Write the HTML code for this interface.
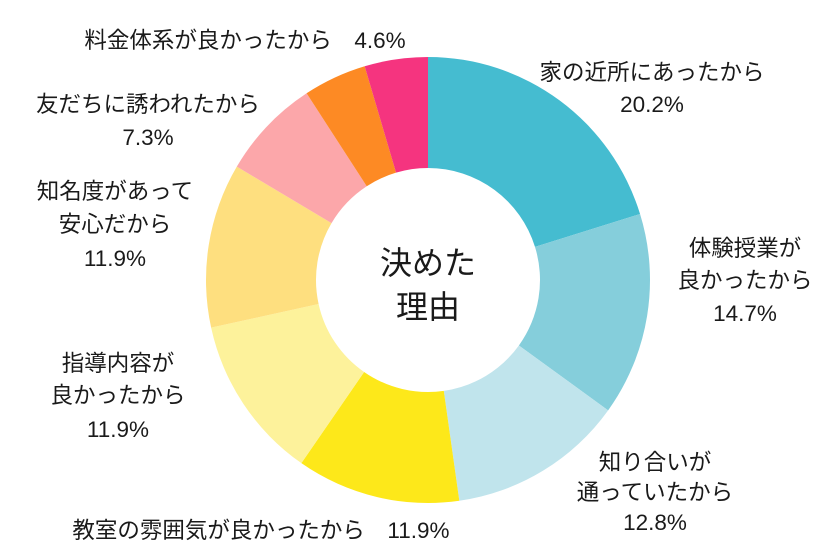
<!DOCTYPE html>
<html><head><meta charset="utf-8"><style>
body{margin:0;background:#fff;}
svg{display:block}
text{font-family:"Liberation Sans","Noto Sans CJK JP",sans-serif;font-size:22.5px;fill:#1a1a1a;text-anchor:middle}
</style></head><body>
<svg id="s" width="840" height="560" viewBox="0 0 840 560">
<g id="pie"></g>
<text x="652" y="80">家の近所にあったから</text>
<text x="652" y="112">20.2%</text>
<text x="745" y="256">体験授業が</text>
<text x="745" y="288">良かったから</text>
<text x="745" y="321">14.7%</text>
<text x="655" y="470">知り合いが</text>
<text x="655" y="500">通っていたから</text>
<text x="655" y="530">12.8%</text>
<text x="261" y="538">教室の雰囲気が良かったから　11.9%</text>
<text x="118" y="371">指導内容が</text>
<text x="118" y="403">良かったから</text>
<text x="118" y="437">11.9%</text>
<text x="115" y="199">知名度があって</text>
<text x="115" y="232">安心だから</text>
<text x="115" y="266">11.9%</text>
<text x="148" y="112">友だちに誘われたから</text>
<text x="148" y="145">7.3%</text>
<text x="245" y="48">料金体系が良かったから　4.6%</text>
<text x="428" y="274" style="font-size:32px">決めた</text>
<text x="428" y="318" style="font-size:32px">理由</text>
</svg>
<script>
var d=[[20.2,"#45BCD0"],[14.7,"#85CEDB"],[12.8,"#C0E4EC"],[11.9,"#FDE81A"],[11.9,"#FDF29B"],[11.9,"#FEDF7F"],[7.3,"#FCA7AA"],[4.6,"#FD8A24"],[4.6,"#F5347F"]];
var cx=428,cy=280,rx=222,ry=223,ix=112,iy=112,tot=99.9,a=0,h="";
function p(t,x,y){return [cx+x*Math.sin(t),cy-y*Math.cos(t)];}
d.forEach(function(s){var a2=a+s[0]/tot*2*Math.PI;var l=(a2-a)>Math.PI?1:0;
var p1=p(a,rx,ry),p2=p(a2,rx,ry),p3=p(a2,ix,iy),p4=p(a,ix,iy);
h+='<path fill="'+s[1]+'" d="M'+p1+' A'+rx+' '+ry+' 0 '+l+' 1 '+p2+' L'+p3+' A'+ix+' '+iy+' 0 '+l+' 0 '+p4+'Z"/>';a=a2;});
document.getElementById("pie").innerHTML=h;
</script>
</body></html>
